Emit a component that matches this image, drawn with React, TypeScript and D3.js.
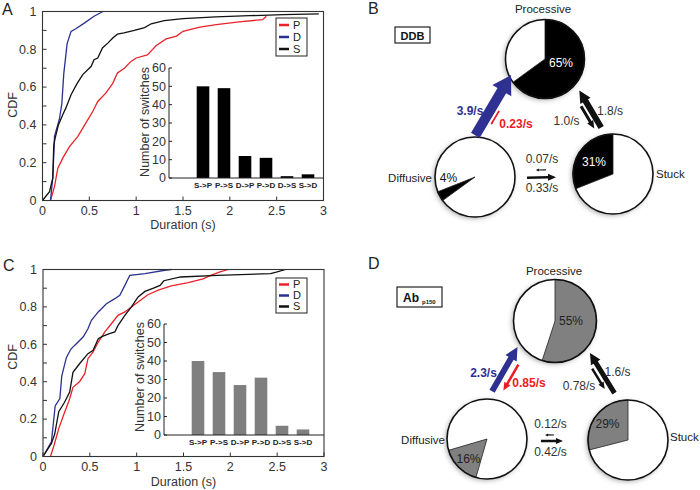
import React from 'react';
import * as d3 from 'd3';

type Pt = [number, number];

// ---------------- DATA ----------------
// Panel A (DDB) cumulative distributions of durations: [duration (s), CDF]
const ddbP: Pt[] = [[0.085,0],[0.128,0.073],[0.163,0.17],[0.216,0.224],[0.288,0.285],[0.376,0.338],[0.43,0.383],[0.483,0.427],[0.536,0.471],[0.59,0.524],[0.678,0.569],[0.75,0.62],[0.8,0.675],[0.874,0.7],[0.945,0.736],[1.0,0.754],[1.12,0.77],[1.215,0.82],[1.32,0.855],[1.43,0.87],[1.5,0.895],[1.68,0.917],[1.855,0.931],[2.1,0.945],[2.35,0.957],[2.39,0.975]];
const ddbD: Pt[] = [[0.085,0],[0.11,0.12],[0.128,0.34],[0.18,0.43],[0.206,0.51],[0.227,0.67],[0.263,0.83],[0.305,0.895],[0.36,0.91],[0.45,0.94],[0.55,0.975],[0.645,1.0]];
const ddbS: Pt[] = [[0,0],[0.075,0.047],[0.11,0.12],[0.12,0.29],[0.135,0.33],[0.17,0.4],[0.216,0.454],[0.25,0.49],[0.305,0.56],[0.37,0.62],[0.43,0.666],[0.52,0.71],[0.55,0.745],[0.59,0.754],[0.64,0.807],[0.7,0.834],[0.75,0.86],[0.8,0.88],[0.87,0.887],[0.98,0.9],[1.09,0.915],[1.16,0.935],[1.3,0.952],[1.5,0.962],[1.85,0.972],[2.21,0.978],[2.57,0.983],[2.95,0.987]];

// Panel C (Ab p150)
const abP: Pt[] = [[0.08,0],[0.118,0.06],[0.168,0.149],[0.225,0.229],[0.285,0.309],[0.32,0.37],[0.39,0.4],[0.446,0.443],[0.48,0.523],[0.535,0.559],[0.59,0.612],[0.66,0.666],[0.73,0.71],[0.8,0.755],[0.874,0.773],[0.944,0.8],[1.016,0.826],[1.12,0.865],[1.23,0.89],[1.37,0.912],[1.55,0.93],[1.71,0.95],[1.79,0.969],[1.89,0.987],[1.98,1.0]];
const abD: Pt[] = [[0,0],[0.09,0.078],[0.13,0.27],[0.18,0.31],[0.2,0.43],[0.25,0.53],[0.3,0.576],[0.356,0.603],[0.43,0.64],[0.48,0.683],[0.517,0.728],[0.59,0.773],[0.677,0.817],[0.767,0.844],[0.82,0.862],[0.874,0.915],[0.927,0.969],[1.09,0.978],[1.3,0.996],[1.37,1.0]];
const abS: Pt[] = [[0,0],[0.09,0.07],[0.125,0.12],[0.168,0.24],[0.23,0.29],[0.285,0.345],[0.32,0.45],[0.39,0.496],[0.48,0.55],[0.535,0.568],[0.59,0.63],[0.64,0.644],[0.71,0.657],[0.767,0.666],[0.8,0.7],[0.874,0.755],[0.944,0.8],[1.016,0.853],[1.088,0.883],[1.18,0.9],[1.25,0.915],[1.29,0.94],[1.47,0.96],[1.86,0.969],[2.43,0.978],[2.5,0.987],[2.59,1.0]];

const cdfKeys = ['P', 'D', 'S'];
const xTicks = [0, 0.5, 1, 1.5, 2, 2.5, 3];
const yTickLabels = [0, 0.2, 0.4, 0.6, 0.8, 1];
const yTickMinor = [0, 0.1, 0.2, 0.3, 0.4, 0.5, 0.6, 0.7, 0.8, 0.9, 1];

const switchLabels = ['S->P', 'P->S', 'D->P', 'P->D', 'D->S', 'S->D'];
const switchesDDB = [50, 49, 12, 11, 1, 2];
const switchesAb = [40, 34, 27, 31, 5, 3];
const switchTicks = [0, 10, 20, 30, 40, 50, 60];

const stateKeys = ['P', 'D', 'S'];
const stateNames = ['Processive', 'Diffusive', 'Stuck'];
const occupancyDDB = [65, 4, 31];
const occupancyAb = [55, 16, 29];
const transFrom = ['D', 'P', 'S', 'P', 'D', 'S'];
const transTo = ['P', 'D', 'P', 'S', 'S', 'D'];
const ratesDDB = ['3.9/s', '0.23/s', '1.8/s', '1.0/s', '0.33/s', '0.07/s'];
const ratesAb = ['2.3/s', '0.85/s', '1.6/s', '0.78/s', '0.42/s', '0.12/s'];

// ---------------- STYLE / LAYOUT ----------------
const FONT = '"Liberation Sans", Arial, sans-serif';
const seriesColor: Record<string, string> = { P: '#e8232a', D: '#2b3190', S: '#111111' };
const BLUE = '#2e3192';
const RED = '#ec1c24';

const layoutA = {
  letter: 'A', letterX: 2, letterY: 15,
  x0: 42.5, x1: 323.5, yb: 200.5, yt: 11.5,
  tickLabelY: 215, durLabelY: 229, cdfLabel: [13, 105],
  iAxisX: 169, iy0: 178, iy60: 68, band: [192.5, 318.5], iLabel: [145, 122],
  barFill: '#000', legend: { x: 276, y: 18, w: 31, h: 38, step: 12 },
};
const layoutC = {
  letter: 'C', letterX: 3, letterY: 271,
  x0: 43, x1: 324, yb: 456.5, yt: 269.5,
  tickLabelY: 471, durLabelY: 486, cdfLabel: [13, 357],
  iAxisX: 164, iy0: 435, iy60: 324, band: [187.5, 313.5], iLabel: [140, 377],
  barFill: '#7f7f7f', legend: { x: 276, y: 278, w: 31, h: 35, step: 11 },
};

function CdfPanel({ L, series, switches }: { L: any; series: Pt[][]; switches: number[] }) {
  const x = d3.scaleLinear().domain([0, 3]).range([L.x0, L.x1]);
  const y = d3.scaleLinear().domain([0, 1]).range([L.yb, L.yt]);
  const line = d3.line<Pt>().x(d => x(d[0])).y(d => y(d[1]));
  const bx = d3.scaleBand<string>().domain(switchLabels).range(L.band).paddingInner(0.4).paddingOuter(0.2);
  const by = d3.scaleLinear().domain([0, 60]).range([L.iy0, L.iy60]);
  const lg = L.legend;
  return (
    <g fontFamily={FONT}>
      <text x={L.letterX} y={L.letterY} fontSize={16} fill="#222">{L.letter}</text>
      {series.map((s, i) => (
        <path key={i} d={line(s) || ''} fill="none" stroke={seriesColor[cdfKeys[i]]} strokeWidth={1.3} />
      ))}
      <rect x={L.x0} y={L.yt} width={L.x1 - L.x0} height={L.yb - L.yt} fill="none" stroke="#333" strokeWidth={1.1} />
      {yTickMinor.map(v => (
        <line key={'ym' + v} x1={L.x0} x2={L.x0 + 4} y1={y(v)} y2={y(v)} stroke="#333" strokeWidth={1} />
      ))}
      {yTickLabels.map(v => (
        <text key={'yl' + v} x={L.x0 - 6} y={y(v)} dy="0.35em" textAnchor="end" fontSize={12.5} fill="#333">{v}</text>
      ))}
      {xTicks.map(v => (
        <g key={'x' + v}>
          <line x1={x(v)} x2={x(v)} y1={L.yb} y2={L.yb - 4} stroke="#333" strokeWidth={1} />
          <text x={x(v)} y={L.tickLabelY} textAnchor="middle" fontSize={12.5} fill="#333">{v}</text>
        </g>
      ))}
      <text x={(L.x0 + L.x1) / 2} y={L.durLabelY} textAnchor="middle" fontSize={12.5} fill="#333">Duration (s)</text>
      <text transform={`translate(${L.cdfLabel[0]},${L.cdfLabel[1]}) rotate(-90)`} dy="0.35em" textAnchor="middle" fontSize={12.5} fill="#333">CDF</text>
      {switches.map((v, i) => (
        <rect key={'b' + i} x={bx(switchLabels[i])} y={by(v)} width={bx.bandwidth()} height={by(0) - by(v)} fill={L.barFill} />
      ))}
      <line x1={L.iAxisX} x2={L.iAxisX} y1={by(0)} y2={by(60)} stroke="#222" strokeWidth={1} />
      <line x1={L.iAxisX} x2={L.x1} y1={by(0)} y2={by(0)} stroke="#222" strokeWidth={1} />
      {switchTicks.map(v => (
        <g key={'it' + v}>
          <line x1={L.iAxisX} x2={L.iAxisX + 3} y1={by(v)} y2={by(v)} stroke="#222" strokeWidth={1} />
          <text x={L.iAxisX - 3} y={by(v)} dy="0.35em" textAnchor="end" fontSize={12.5} fill="#333">{v}</text>
        </g>
      ))}
      {switchLabels.map(s => (
        <text key={'bl' + s} x={(bx(s) as number) + bx.bandwidth() / 2} y={by(0) + 10} textAnchor="middle" fontSize={8} fontWeight="bold" fill="#222">{s}</text>
      ))}
      <text transform={`translate(${L.iLabel[0]},${L.iLabel[1]}) rotate(-90)`} dy="0.35em" textAnchor="middle" fontSize={12.5} fill="#333">Number of switches</text>
      <rect x={lg.x} y={lg.y} width={lg.w} height={lg.h} fill="#fff" stroke="#222" strokeWidth={1} />
      {cdfKeys.map((k, i) => {
        const ly = lg.y + lg.h / 2 + (i - 1) * lg.step;
        return (
          <g key={'lg' + k}>
            <line x1={lg.x + 3} x2={lg.x + 13} y1={ly} y2={ly} stroke={seriesColor[k]} strokeWidth={2.5} />
            <text x={lg.x + 17} y={ly} dy="0.36em" fontSize={11} fill="#222">{k}</text>
          </g>
        );
      })}
    </g>
  );
}

// ---------------- DIAGRAMS ----------------
const layoutB = {
  letter: 'B', letterXY: [368, 14],
  nodes: { P: [545, 59, 39.5], D: [475, 177, 40], S: [613, 174, 40] } as Record<string, number[]>,
  fill: '#000', pctColor: ['#fff', '#111', '#fff'],
  sliceStart: { P: 0, D: 234, S: null } as Record<string, number | null>,
  names: [[543, 12.5, 'middle'], [432, 181.5, 'end'], [656, 178, 'start']],
  pcts: [[561, 66.5], [448.5, 181.5], [594, 166]],
  box: { x: 395, y: 27, w: 35, h: 16 },
  arrows: [
    { off: 21, s0: 36, s1: 106, w: 10, hw: 22, hl: 18, color: BLUE },
    { off: -13, s0: 68, s1: 84, w: 1.8, hw: 3, hl: 2, color: RED },
    { off: -13.5, s0: 46, s1: 89, w: 6, hw: 12, hl: 12, color: '#111' },
    { off: 7, s0: 59, s1: 85, w: 3, hw: 7, hl: 8, color: '#111' },
    { off: -1.9, s0: 52, s1: 81, w: 2.5, hw: 7, hl: 8, color: '#111' },
    { off: -5.6, s0: 67, s1: 77, w: 1.2, hw: 3, hl: 3, color: '#111' },
  ],
  rateText: [
    [470, 115, BLUE, 'bold'], [516, 128, RED, 'bold'], [610, 115, '#333', 'normal'],
    [566.5, 125, '#333', 'normal'], [542, 192, '#333', 'normal'], [542, 163, '#333', 'normal'],
  ],
};
const layoutD = {
  letter: 'D', letterXY: [368, 269],
  nodes: { P: [555, 321, 41.5], D: [487, 439, 40], S: [628, 440, 40] } as Record<string, number[]>,
  fill: '#808080', pctColor: ['#222', '#222', '#222'],
  sliceStart: { P: 0, D: 196, S: null } as Record<string, number | null>,
  names: [[554, 275, 'middle'], [445, 444, 'end'], [670, 441, 'start']],
  pcts: [[571, 325], [468.5, 463], [607.5, 428]],
  box: { x: 397, y: 287, w: 45, h: 20 },
  arrows: [
    { off: 19.5, s0: 44, s1: 95, w: 6, hw: 13, hl: 13, color: BLUE },
    { off: -10, s0: 56, s1: 86, w: 2.5, hw: 7, hl: 8, color: RED },
    { off: -13, s0: 47, s1: 94, w: 5, hw: 11, hl: 11, color: '#111' },
    { off: 6.8, s0: 60, s1: 84, w: 2.5, hw: 6, hl: 7, color: '#111' },
    { off: -1.5, s0: 54, s1: 76, w: 2.5, hw: 6, hl: 7, color: '#111' },
    { off: -4.5, s0: 74, s1: 83, w: 1.2, hw: 3, hl: 3, color: '#111' },
  ],
  rateText: [
    [483.5, 377, BLUE, 'bold'], [529, 387, RED, 'bold'], [617.5, 376, '#333', 'normal'],
    [579, 390, '#333', 'normal'], [550.5, 456, '#333', 'normal'], [550.5, 428, '#333', 'normal'],
  ],
};

function arrowPath(F: number[], T: number[], a: any) {
  const dx = T[0] - F[0], dy = T[1] - F[1];
  const len = Math.hypot(dx, dy);
  const ux = dx / len, uy = dy / len;
  const nx = uy, ny = -ux;
  const ax = F[0] + ux * a.s0 + nx * a.off, ay = F[1] + uy * a.s0 + ny * a.off;
  const bx = F[0] + ux * a.s1 + nx * a.off, by = F[1] + uy * a.s1 + ny * a.off;
  const sx = bx - ux * a.hl, sy = by - uy * a.hl;
  const px = -uy, py = ux;
  const pts: Pt[] = [
    [ax + px * a.w / 2, ay + py * a.w / 2],
    [sx + px * a.w / 2, sy + py * a.w / 2],
    [sx + px * a.hw / 2, sy + py * a.hw / 2],
    [bx, by],
    [sx - px * a.hw / 2, sy - py * a.hw / 2],
    [sx - px * a.w / 2, sy - py * a.w / 2],
    [ax - px * a.w / 2, ay - py * a.w / 2],
  ];
  return d3.line()(pts) + 'Z';
}

function Diagram({ L, occupancy, rates, boxLabel }: { L: any; occupancy: number[]; rates: string[]; boxLabel: React.ReactNode }) {
  const arc = d3.arc<any>();
  return (
    <g fontFamily={FONT}>
      <text x={L.letterXY[0]} y={L.letterXY[1]} fontSize={16} fill="#222">{L.letter}</text>
      <rect x={L.box.x} y={L.box.y} width={L.box.w} height={L.box.h} fill="#fff" stroke="#222" strokeWidth={1.2} />
      {boxLabel}
      {stateKeys.map((k, i) => {
        const [cx, cy, r] = L.nodes[k];
        const frac = occupancy[i] / 100;
        const st = L.sliceStart[k];
        const a0 = st === null ? -frac * 2 * Math.PI : (st * Math.PI) / 180;
        const a1 = a0 + frac * 2 * Math.PI;
        const name = L.names[i];
        return (
          <g key={k}>
            <circle cx={cx} cy={cy} r={r} fill="#fff" filter="url(#pieShadow)" />
            <path transform={`translate(${cx},${cy})`} d={arc({ innerRadius: 0, outerRadius: r, startAngle: a0, endAngle: a1 }) || ''} fill={L.fill} stroke="#222" strokeWidth={0.8} />
            <circle cx={cx} cy={cy} r={r} fill="none" stroke="#111" strokeWidth={1.6} />
            <text x={name[0]} y={name[1]} textAnchor={name[2]} fontSize={11.5} fill="#222">{stateNames[i]}</text>
            <text x={L.pcts[i][0]} y={L.pcts[i][1]} textAnchor="middle" fontSize={12} fill={L.pctColor[i]}>{occupancy[i]}%</text>
          </g>
        );
      })}
      {rates.map((r, i) => {
        const a = L.arrows[i];
        const t = L.rateText[i];
        return (
          <g key={'ar' + i}>
            <path d={arrowPath(L.nodes[transFrom[i]], L.nodes[transTo[i]], a)} fill={a.color} />
            <text x={t[0]} y={t[1]} textAnchor="middle" fontSize={12} fill={t[2]} fontWeight={t[3]}>{r}</text>
          </g>
        );
      })}
    </g>
  );
}

export default function App() {
  return (
    <svg width={700} height={490} style={{ position: 'absolute', left: 0, top: 0, background: '#fff' }}>
      <defs>
        <filter id="pieShadow" x="-30%" y="-30%" width="160%" height="160%">
          <feDropShadow dx={-1.5} dy={1.5} stdDeviation={2.5} floodColor="#000" floodOpacity={0.35} />
        </filter>
      </defs>
      <rect width={700} height={490} fill="#fff" />
      <CdfPanel L={layoutA} series={[ddbP, ddbD, ddbS]} switches={switchesDDB} />
      <CdfPanel L={layoutC} series={[abP, abD, abS]} switches={switchesAb} />
      <Diagram L={layoutB} occupancy={occupancyDDB} rates={ratesDDB}
        boxLabel={<text x={412.5} y={39.5} textAnchor="middle" fontSize={11} fontWeight="bold" fontFamily={FONT} fill="#111">DDB</text>} />
      <Diagram L={layoutD} occupancy={occupancyAb} rates={ratesAb}
        boxLabel={<text x={403} y={302} fontSize={12} fontWeight="bold" fontFamily={FONT} fill="#111">Ab<tspan dx={3} dy={2} fontSize={6}>p150</tspan></text>} />
    </svg>
  );
}
